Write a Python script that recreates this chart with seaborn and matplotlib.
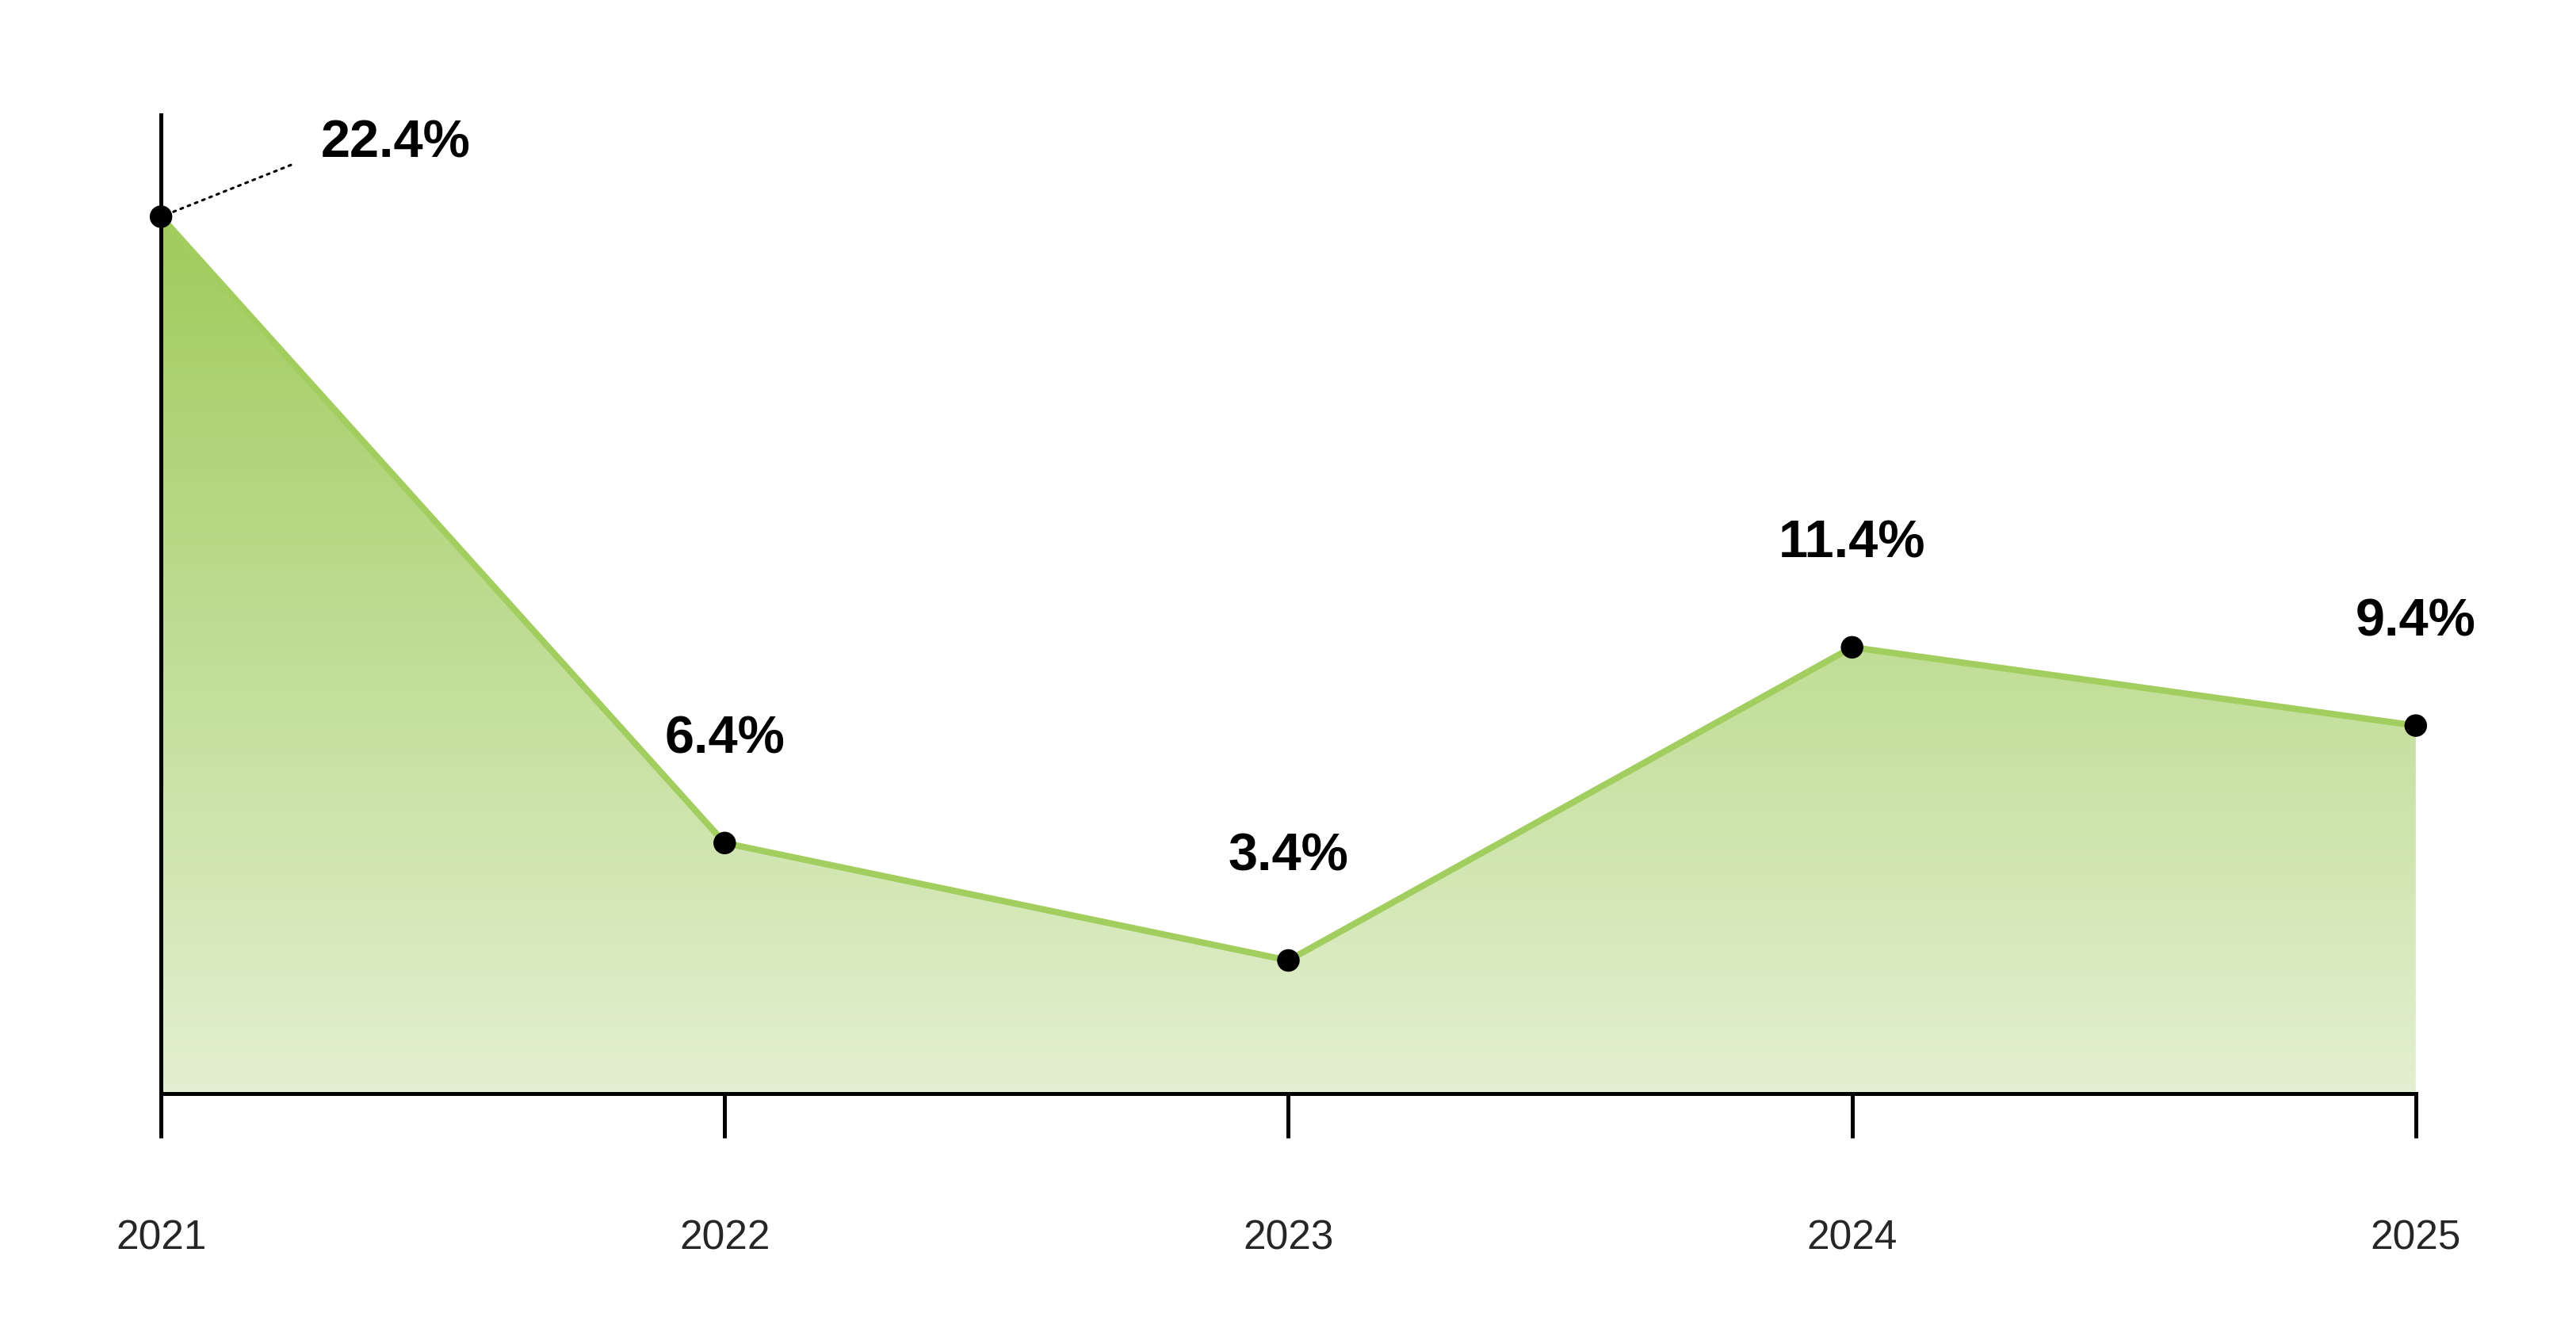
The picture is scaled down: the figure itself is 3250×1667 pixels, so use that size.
import numpy as np
import pandas as pd
import matplotlib
matplotlib.use("Agg")
import matplotlib.pyplot as plt
import seaborn as sns
from matplotlib import font_manager
from matplotlib.colors import LinearSegmentedColormap

# ---- data ----
years = [2021, 2022, 2023, 2024, 2025]
values = [22.4, 6.4, 3.4, 11.4, 9.4]
labels = ["22.4%", "6.4%", "3.4%", "11.4%", "9.4%"]
tick_labels = ["2021", "2022", "2023", "2024", "2025"]

df = pd.DataFrame({"year": years, "value": values})

sns.set_theme(style="white")
names = {f.name for f in font_manager.fontManager.ttflist}
fam = "Liberation Sans Narrow" if "Liberation Sans Narrow" in names else "Liberation Sans"
plt.rcParams["font.family"] = [fam, "DejaVu Sans"]

fig = plt.figure(figsize=(32.5, 16.67), dpi=100)
ax = fig.add_axes([0.0625, 0.1722, 0.9378 - 0.0625, 0.913 - 0.1722])

line_color = "#a2ce60"

# gradient fill under the line
poly = ax.fill_between(df["year"], df["value"], 0, color="none", lw=0)
cmap = LinearSegmentedColormap.from_list("g", ["#e3f0d1", "#9fcb5b"])
grad = np.linspace(0, 1, 256).reshape(-1, 1)
im = ax.imshow(grad, cmap=cmap, aspect="auto", origin="lower",
               extent=[years[0], years[-1], 0, max(values)], zorder=1)
path = poly.get_paths()[0]
im.set_clip_path(path, transform=ax.transData)

sns.lineplot(data=df, x="year", y="value", ax=ax, color=line_color,
             linewidth=5.8, zorder=3)
sc = sns.scatterplot(data=df, x="year", y="value", ax=ax, color="black",
                     s=420, edgecolor="none", zorder=4)
for coll in ax.collections:
    coll.set_clip_on(False)

ax.set_xlim(years[0], years[-1])
ax.set_ylim(0, 25)

# labels
for i, (x, y, t) in enumerate(zip(years, values, labels)):
    if i == 0:
        ax.annotate(t, xy=(x, y), xytext=(213, 66), textcoords="offset points",
                    ha="center", va="center", fontsize=48, fontweight="bold",
                    color="black", zorder=5)
        ax.annotate("", xy=(x, y), xytext=(118, 47), textcoords="offset points",
                    arrowprops=dict(arrowstyle="-", linestyle=(0, (1, 2.2)),
                                    lw=2.2, color="black", shrinkA=0, shrinkB=4),
                    zorder=5)
    else:
        ax.annotate(t, xy=(x, y), xytext=(0, 94), textcoords="offset points",
                    ha="center", va="center", fontsize=48, fontweight="bold",
                    color="black", zorder=5)

# axes styling
for s in ["top", "right"]:
    ax.spines[s].set_visible(False)
for s in ["left", "bottom"]:
    ax.spines[s].set_linewidth(3.6)
    ax.spines[s].set_color("black")
    ax.spines[s].set_zorder(6)
ax.set_xticks(years)
ax.set_xticklabels(tick_labels)
ax.set_yticks([])
ax.tick_params(axis="x", direction="out", length=40, width=3.6, color="black",
               labelsize=37, pad=74, bottom=True)
ax.set_xlabel("")
ax.set_ylabel("")
for t in ax.xaxis.get_major_ticks():
    t.tick1line.set_clip_on(False)

fig.savefig("out.png", dpi=100, facecolor="white")
